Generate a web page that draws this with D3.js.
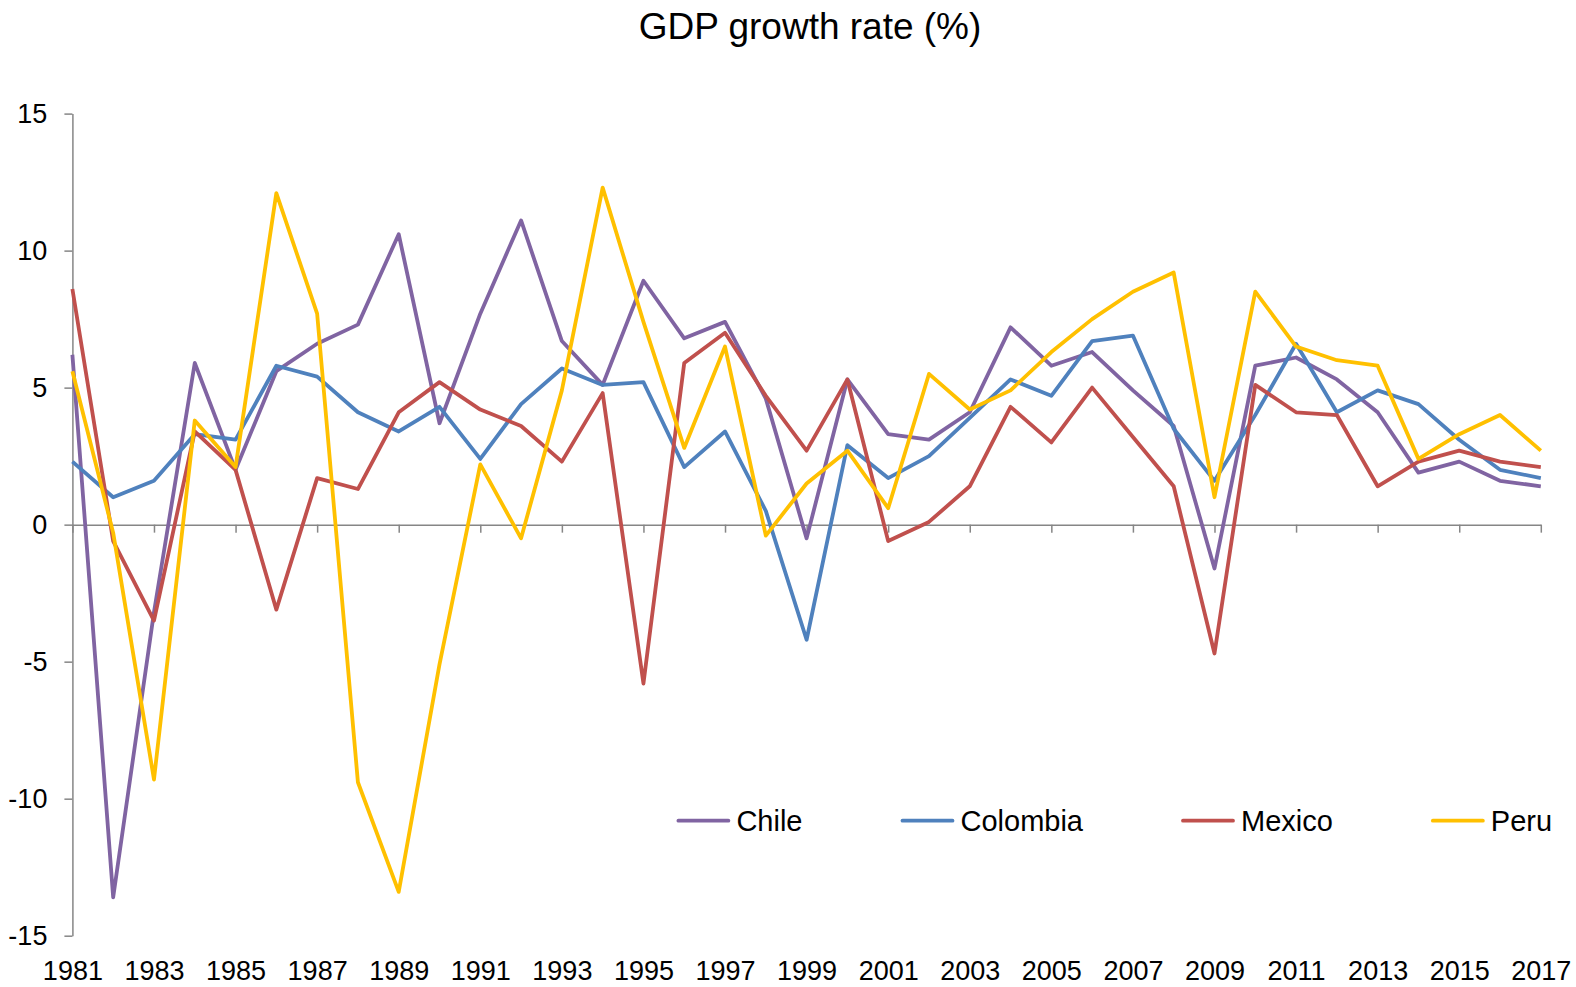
<!DOCTYPE html>
<html>
<head>
<meta charset="utf-8">
<script src="https://cdn.jsdelivr.net/npm/d3@7"></script>
<style>
  body { margin: 0; background: #fff; }
  svg { display: block; font-family: "Liberation Sans", Arial, sans-serif; }
  .axis path, .axis line { stroke: #868686; stroke-width: 1.5; }
  .axis text { fill: #000; font-size: 27px; font-family: "Liberation Sans", Arial, sans-serif; }
</style>
</head>
<body>
<div id="chart"></div>
<script>
// data (GDP growth, %)
var years = d3.range(1981, 2018);
var yTicks = [-15, -10, -5, 0, 5, 10, 15];
var xTicks = d3.range(1981, 2018, 2);

var chile = [6.2, -13.6, -3.2, 5.9, 2.0, 5.6, 6.6, 7.3, 10.6, 3.7, 7.7, 11.1, 6.7, 5.1, 8.9, 6.8, 7.4, 4.6, -0.5,
  5.3, 3.3, 3.1, 4.1, 7.2, 5.8, 6.3, 4.9, 3.6, -1.6, 5.8, 6.1, 5.3, 4.1, 1.9, 2.3, 1.6, 1.4];
var colombia = [2.3, 1.0, 1.6, 3.3, 3.1, 5.8, 5.4, 4.1, 3.4, 4.3, 2.4, 4.4, 5.7, 5.1, 5.2, 2.1, 3.4, 0.5, -4.2,
  2.9, 1.7, 2.5, 3.9, 5.3, 4.7, 6.7, 6.9, 3.5, 1.6, 4.0, 6.6, 4.1, 4.9, 4.4, 3.1, 2.0, 1.7];
var mexico = [8.6, -0.6, -3.5, 3.4, 2.0, -3.1, 1.7, 1.3, 4.1, 5.2, 4.2, 3.6, 2.3, 4.8, -5.8, 5.9, 7.0, 4.7, 2.7,
  5.3, -0.6, 0.1, 1.4, 4.3, 3.0, 5.0, 3.2, 1.4, -4.7, 5.1, 4.1, 4.0, 1.4, 2.3, 2.7, 2.3, 2.1];
var peru = [5.6, -0.3, -9.3, 3.8, 2.1, 12.1, 7.7, -9.4, -13.4, -5.1, 2.2, -0.5, 4.9, 12.3, 7.4, 2.8, 6.5, -0.4, 1.5,
  2.7, 0.6, 5.5, 4.2, 4.9, 6.3, 7.5, 8.5, 9.2, 1.0, 8.5, 6.5, 6.0, 5.8, 2.4, 3.3, 4.0, 2.7];

var names = ["Chile", "Colombia", "Mexico", "Peru"];
var colors = ["#8064A2", "#4F81BD", "#C0504D", "#FFC000"];
var series = [chile, colombia, mexico, peru];

var width = 1576, height = 987;

var svg = d3.select("#chart").append("svg")
  .attr("width", width)
  .attr("height", height);

var x = d3.scaleLinear().domain([1981, 2017]).range([72.4, 1540.8]);
var y = d3.scaleLinear().domain([-15, 15]).range([935.7, 113.6]);

// title
svg.append("text")
  .attr("x", 810)
  .attr("y", 39)
  .attr("text-anchor", "middle")
  .style("font-size", "37px")
  .text("GDP growth rate (%)");

// y axis (plain hyphen for negatives, like the original)
svg.append("g")
  .attr("class", "axis")
  .attr("transform", "translate(" + x(1981) + ",0)")
  .call(d3.axisLeft(y).tickValues(yTicks).tickSize(8).tickSizeOuter(0).tickPadding(17)
    .tickFormat(function(d) { return String(d); }));

// x axis sits on zero, labels go at the bottom
svg.append("g")
  .attr("class", "axis")
  .attr("transform", "translate(0," + y(0) + ")")
  .call(d3.axisBottom(x).tickValues(xTicks).tickSize(8).tickSizeOuter(0).tickFormat(""));

var xLabels = svg.append("g")
  .attr("class", "axis")
  .attr("transform", "translate(0," + y(-15) + ")")
  .call(d3.axisBottom(x).tickValues(xTicks).tickSize(0).tickPadding(25).tickFormat(d3.format("d")));
xLabels.select(".domain").remove();

// lines
var line = d3.line()
  .x(function(d, i) { return x(years[i]); })
  .y(function(d) { return y(d); });

series.forEach(function(s, k) {
  svg.append("path")
    .datum(s)
    .attr("fill", "none")
    .attr("stroke", colors[k])
    .attr("stroke-width", 3.8)
    .attr("stroke-linejoin", "round")
    .attr("d", line);
});

// legend
var lx = 678.4, ly = 820.7;
names.forEach(function(n, k) {
  svg.append("line")
    .attr("x1", lx).attr("x2", lx + 50)
    .attr("y1", ly).attr("y2", ly)
    .attr("stroke", colors[k])
    .attr("stroke-width", 3.8)
    .attr("stroke-linecap", "round");
  var t = svg.append("text")
    .attr("x", lx + 58)
    .attr("y", ly)
    .attr("dy", "0.35em")
    .style("font-size", "29px")
    .text(n);
  lx = lx + 58 + t.node().getComputedTextLength() + 100;
});
</script>
</body>
</html>
